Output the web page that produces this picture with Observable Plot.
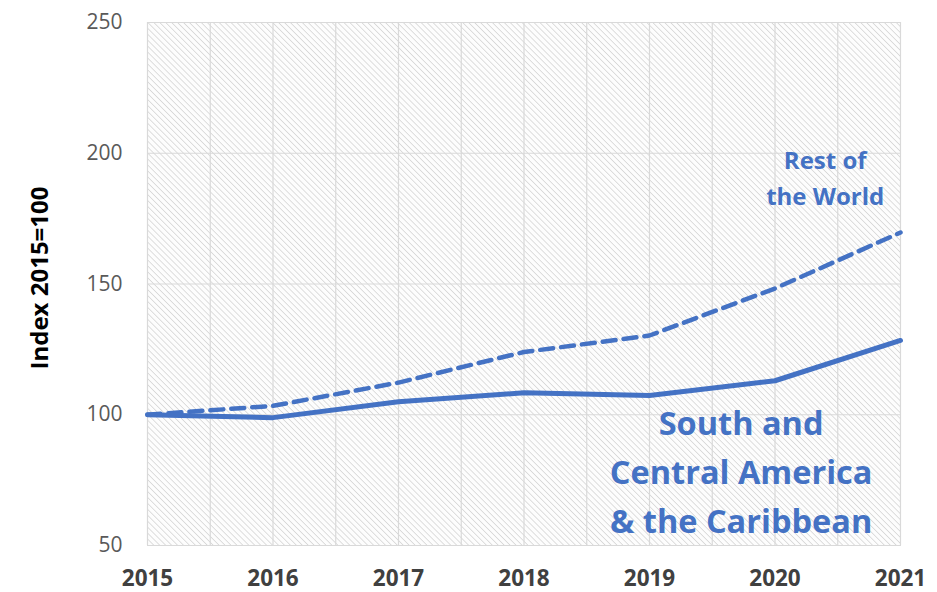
<!DOCTYPE html>
<html>
<head>
<meta charset="utf-8">
<script src="https://cdn.jsdelivr.net/npm/d3@7"></script>
<script src="https://cdn.jsdelivr.net/npm/@observablehq/plot@0.6"></script>
<style>
  html, body { margin: 0; padding: 0; background: #fff; }
  #chart svg { display: block; font-family: "Open Sans", Lato, sans-serif; }
  #chart g[aria-label="x-axis tick label"] text { font-weight: 700; fill: #404040; }
  #chart g[aria-label="y-axis tick label"] text { fill: #595959; }
</style>
</head>
<body>
<div id="chart"></div>
<script>
// Years on the x axis
const years = [2015, 2016, 2017, 2018, 2019, 2020, 2021];
// Index values, 2015 = 100
const southCentralAmerica = [100, 98.9, 105, 108.4, 107.4, 113, 128.4];
const restOfWorld = [100, 103.4, 112.3, 124, 130.3, 148.3, 169.7];
// Axis ticks
const yTicks = [50, 100, 150, 200, 250];
const xGrid = d3.range(2015, 2021.001, 0.5);
// Series labels placed in data units
const labelText = ["Rest of\nthe World", "South and\nCentral America\n& the Caribbean"];
const labelYear = [2020.4, 2019.73];
const labelValue = [191.5, 79.5];

const southRows = years.map((year, i) => ({year, value: southCentralAmerica[i]}));
const restRows = years.map((year, i) => ({year, value: restOfWorld[i]}));
const blue = "#4472C4";

const plot = Plot.plot({
  width: 937,
  height: 592,
  marginLeft: 147,
  marginRight: 37,
  marginTop: 22,
  marginBottom: 47,
  x: {domain: [2015, 2021], ticks: years, tickFormat: "d", label: null},
  y: {domain: [50, 250], ticks: yTicks, label: null},
  marks: [
    Plot.frame({fill: "url(#hatch)", stroke: "#d9d9d9"}),
    Plot.gridX(xGrid, {stroke: "#d9d9d9", strokeOpacity: 1, strokeWidth: 1.2}),
    Plot.gridY(yTicks, {stroke: "#d9d9d9", strokeOpacity: 1, strokeWidth: 1.2}),
    Plot.axisX({ticks: years, tickFormat: "d", tickSize: 0, tickPadding: 25, fontSize: 22.5, label: null}),
    Plot.axisY({ticks: yTicks, tickSize: 0, tickPadding: 25, fontSize: 21, label: null}),
    Plot.line(restRows, {x: "year", y: "value", stroke: blue, strokeWidth: 4.5, strokeDasharray: "13,8"}),
    Plot.line(southRows, {x: "year", y: "value", stroke: blue, strokeWidth: 5}),
    Plot.text([labelText[0]], {x: [labelYear[0]], y: [labelValue[0]], text: d => d, fill: blue, fontSize: 24, fontWeight: 700, lineHeight: 1.5, textAnchor: "middle"}),
    Plot.text([labelText[1]], {x: [labelYear[1]], y: [labelValue[1]], text: d => d, fill: blue, fontSize: 32.5, fontWeight: 700, lineHeight: 1.5, textAnchor: "middle"}),
    Plot.text(["Index 2015=100"], {frameAnchor: "left", dx: -107, dy: -6, rotate: -90, textAnchor: "middle", fill: "#000", fontSize: 24, fontWeight: 700})
  ]
});

// Diagonal hatch used to fill the plotting area
const ns = "http://www.w3.org/2000/svg";
const defs = document.createElementNS(ns, "defs");
const pattern = document.createElementNS(ns, "pattern");
pattern.setAttribute("id", "hatch");
pattern.setAttribute("width", "4.2");
pattern.setAttribute("height", "4.2");
pattern.setAttribute("patternUnits", "userSpaceOnUse");
pattern.setAttribute("patternTransform", "rotate(-45)");
const bg = document.createElementNS(ns, "rect");
bg.setAttribute("width", "4.2");
bg.setAttribute("height", "4.2");
bg.setAttribute("fill", "#fdfdfd");
const stripe = document.createElementNS(ns, "line");
stripe.setAttribute("x1", "0"); stripe.setAttribute("y1", "0");
stripe.setAttribute("x2", "0"); stripe.setAttribute("y2", "4.2");
stripe.setAttribute("stroke", "#d6d6d6");
stripe.setAttribute("stroke-width", "1.6");
pattern.appendChild(bg);
pattern.appendChild(stripe);
defs.appendChild(pattern);
plot.insertBefore(defs, plot.firstChild);

document.getElementById("chart").appendChild(plot);
</script>
</body>
</html>
